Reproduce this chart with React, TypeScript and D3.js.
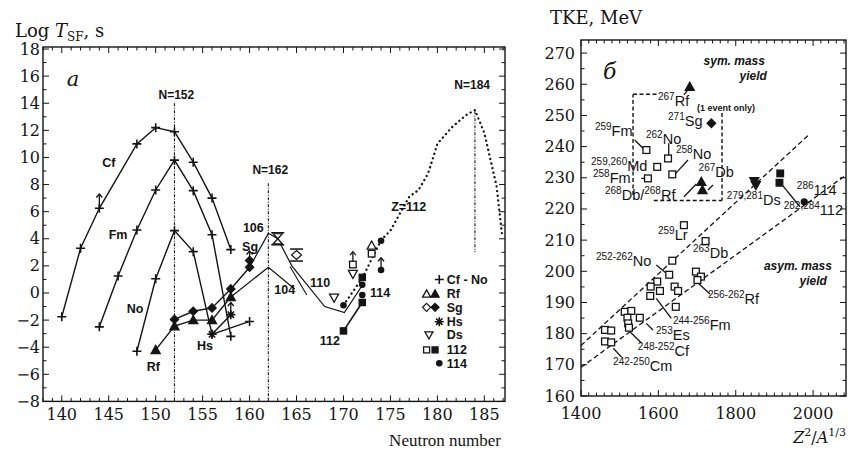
import React from 'react';
import * as d3 from 'd3';

// ---------- Left panel data (log T_SF vs neutron number) ----------
const cfN = [140, 142, 144, 148, 150, 152, 154, 156, 158];
const cfLog = [-1.75, 3.3, 6.25, 11.0, 12.2, 11.9, 9.65, 7.0, 3.2];
const fmN = [144, 146, 148, 150, 152, 154, 156, 158];
const fmLog = [-2.5, 1.25, 4.65, 7.6, 9.8, 7.55, 4.3, -3.2];
const noN = [148, 150, 152, 154, 156, 160];
const noLog = [-4.3, 1.05, 4.6, 3.05, -3.05, -2.1];
const rfN = [150, 152, 154, 156, 158];
const rfLog = [-4.2, -2.45, -2.0, -2.0, -0.3];
const sgN = [152, 154, 156, 158, 160];
const sgLog = [-1.95, -1.35, -1.1, 0.3, 1.9];
const hsN = [156, 158];
const hsLog = [-3.05, -1.6];
// theoretical curves
const th106N = [160, 162, 163, 164.5, 168, 170.1, 171.9];
const th106Log = [1.9, 4.4, 4.0, 2.0, -1.0, -1.45, 0.46];
const th104N = [158, 162, 164.8];
const th104Log = [-0.3, 1.9, 0.3];
const thShortN = [164.3, 166.1];
const thShortLog = [1.95, -0.15];
const z112N = [170, 172, 174, 175, 177, 178, 179, 180, 181.5, 183, 184, 185, 186.3, 186.9];
const z112Log = [-0.9, 1.1, 3.9, 4.6, 7.1, 7.6, 8.8, 11.0, 12.2, 13.1, 13.5, 11.8, 7.9, 4.2];
const line112N = [170, 172];
const line112Log = [-2.8, -0.7];
// superheavy markers
const dsOpenN = [169, 171];
const dsOpenLog = [-0.35, 1.4];
const sq112OpenN = [171, 173];
const sq112OpenLog = [2.1, 2.9];
const rfOpenN = [173];
const rfOpenLog = [3.5];
const sq112FillN = [170, 172, 172];
const sq112FillLog = [-2.8, -0.7, 1.15];
const c114N = [172, 172, 174, 174, 170];
const c114Log = [0.6, -0.15, 3.85, 1.7, -0.9];
const arrowN = [144, 171, 174, 158, 160];
const arrowFrom = [6.25, 2.1, 1.7, -1.6, 2.4];
const arrowTo = [7.3, 3.05, 2.6, -0.7, 3.1];
const barN = [163, 165];
const barLog = [4.0, 2.8];
const sgExtraN = [160];
const sgExtraLog = [2.4];
const magicN = [152, 162, 184];
const magicTop = [14.0, 8.1, 13.4];
const magicBottom = [-8, -8, 3.0];
const magicLabel = ['N=152', 'N=162', 'N=184'];
const magicLabelN = [152.2, 162.2, 183.7];
const magicLabelLog = [14.6, 9.1, 15.35];
const leftLabels = ['Cf', 'Fm', 'No', 'Rf', 'Hs', 'Sg', '106', '104', '110', '112', '114', 'Z=112'];
const leftLabelN = [145.0, 146.0, 147.8, 149.75, 155.25, 160.05, 160.4, 163.75, 167.5, 168.55, 173.9, 176.95];
const leftLabelLog = [9.6, 4.35, -1.13, -5.44, -3.84, 3.42, 4.85, 0.22, 0.76, -3.47, 0.02, 6.35];
const legendText = ['Cf - No', 'Rf', 'Sg', 'Hs', 'Ds', '112', '114'];
const legendLog = [1.0, -0.07, -1.06, -2.12, -3.1, -4.2, -5.19];
const xTicksL = [140, 145, 150, 155, 160, 165, 170, 175, 180, 185];
const yTicksL = [-8, -6, -4, -2, 0, 2, 4, 6, 8, 10, 12, 14, 16, 18];

// ---------- Right panel data (TKE vs Z^2/A^1/3) ----------
const sqX = [1569, 1625, 1597, 1636, 1573, 1666, 1722, 1636, 1628, 1597, 1580, 1604, 1579, 1642, 1651, 1645,
  1697, 1710, 1701, 1513, 1530, 1520, 1552, 1522, 1524, 1462, 1478, 1462, 1478];
const sqT = [238.9, 236.2, 233.5, 231.1, 229.8, 214.8, 209.7, 203.4, 198.9, 196.7, 195.1, 193.7, 192.1, 195.1, 193.7, 188.6,
  199.9, 198.3, 197.2, 187.0, 187.3, 185.1, 185.1, 183.3, 181.9, 181.2, 181.0, 177.5, 177.2];
const triX = [1711, 1714, 1681];
const triT = [228.7, 226.1, 259.2];
const diaX = [1737];
const diaT = [247.5];
const invTriX = [1848, 1852];
const invTriT = [228.9, 227.6];
const fsqX = [1915, 1913];
const fsqT = [231.4, 228.4];
const circX = [1977];
const circT = [222.3];
const symLineX = [1400, 1988];
const symLineT = [176.2, 243.7];
const asymLineX = [1400, 2085];
const asymLineT = [169.2, 230.9];
const boxX = [1534.5, 1534.5];
const boxT = [224.5, 256.8];
const boxTopX = [1534.5, 1599];
const boxBottomX = [1588, 1764.6];
const boxBottomT = 222.7;
const boxRightT = [250.8, 222.7];
const leaderX1 = [1538.8, 1626.7, 1676.6, 1555.9, 1666.2, 1728.2, 1666.2, 1594.6, 1594.6, 1568.8, 1526.6, 1483.5, 1703.2, 1922];
const leaderT1 = [242.1, 241.1, 235.7, 229.8, 223.9, 226.1, 256.6, 202.0, 191.3, 183.3, 180.6, 175.3, 196.2, 227.4];
const leaderX2 = [1560.2, 1626.7, 1644.8, 1566.7, 1698, 1741.2, 1679, 1618, 1633.4, 1586, 1556.9, 1505.2, 1733.4, 1966];
const leaderT2 = [239.5, 237.3, 231.4, 229.8, 228.0, 227.7, 258.7, 199.6, 184.9, 181.2, 176.9, 172.4, 192.7, 220.7];
const isoLabels: { parts: [string, string][]; X: number; T: number }[] = [
  { parts: [['259', 'Fm']], X: 1436, T: 243.4 },
  { parts: [['262', 'No']], X: 1568, T: 240.8 },
  { parts: [['259,260', 'Md']], X: 1426, T: 232.2 },
  { parts: [['258', 'No']], X: 1645.5, T: 235.9 },
  { parts: [['258', 'Fm']], X: 1431, T: 228.3 },
  { parts: [['267', 'Db']], X: 1704, T: 230.2 },
  { parts: [['268', 'Db/'], ['268', 'Rf']], X: 1462, T: 223.0 },
  { parts: [['267', 'Rf']], X: 1599, T: 253.0 },
  { parts: [['271', 'Sg']], X: 1625, T: 246.6 },
  { parts: [['279,281', 'Ds']], X: 1777, T: 221.4 },
  { parts: [['286', '114']], X: 1958, T: 224.6 },
  { parts: [['282,284', '112']], X: 1924, T: 218.2 },
  { parts: [['259', 'Lr']], X: 1599, T: 210.2 },
  { parts: [['263', 'Db']], X: 1689.5, T: 204.4 },
  { parts: [['252-262', 'No']], X: 1438.8, T: 201.7 },
  { parts: [['256-262', 'Rf']], X: 1728, T: 189.4 },
  { parts: [['244-256', 'Fm']], X: 1637.8, T: 181.3 },
  { parts: [['253', 'Es']], X: 1594, T: 178.1 },
  { parts: [['248-252', 'Cf']], X: 1547, T: 172.8 },
  { parts: [['242-250', 'Cm']], X: 1483, T: 168.0 },
];
const xTicksR = [1400, 1600, 1800, 2000];
const yTicksR = [160, 170, 180, 190, 200, 210, 220, 230, 240, 250, 260, 270];

// ---------- scales ----------
const xL = d3.scaleLinear().domain([138, 187.2]).range([43, 505]);
const yL = d3.scaleLinear().domain([-8, 18.15]).range([401.4, 47]);
const xR = d3.scaleLinear().domain([1400, 2085]).range([581, 846]);
const yR = d3.scaleLinear().domain([160, 274.2]).range([396, 40]);

const INK = '#141414';
const SERIF = '"DejaVu Serif", serif';
const TSERIF = '"Liberation Serif", serif';
const SANS = '"Liberation Sans", Arial, sans-serif';

const zipPts = (a: number[], b: number[]) => a.map((v, i) => [v, b[i]] as [number, number]);
const lineL = d3.line<[number, number]>().x(d => xL(d[0])).y(d => yL(d[1]));
const lineR = d3.line<[number, number]>().x(d => xR(d[0])).y(d => yR(d[1]));

const Plus = ({ x, y }: any) => (
  <path d={`M${x - 4.5},${y}H${x + 4.5}M${x},${y - 4.5}V${y + 4.5}`} stroke={INK} strokeWidth={1.6} />
);
const Tri = ({ x, y, s = 4.5, fill = true, inv = false }: any) => {
  const k = inv ? -1 : 1;
  return (
    <path d={`M${x},${y - k * s}L${x + s},${y + k * s * 0.8}L${x - s},${y + k * s * 0.8}Z`}
      fill={fill ? INK : 'white'} stroke={INK} strokeWidth={1.3} />
  );
};
const Dia = ({ x, y, s = 4.2, fill = true }: any) => (
  <path d={`M${x},${y - s}L${x + s},${y}L${x},${y + s}L${x - s},${y}Z`} fill={fill ? INK : 'white'} stroke={INK} strokeWidth={1.2} />
);
const Ast = ({ x, y }: any) => {
  const r = 4.5;
  const d = [0, 45, 90, 135].map(a => {
    const c = Math.cos((a * Math.PI) / 180) * r, s = Math.sin((a * Math.PI) / 180) * r;
    return `M${x - c},${y - s}L${x + c},${y + s}`;
  }).join('');
  return <path d={d} stroke={INK} strokeWidth={1.6} />;
};
const Sq = ({ x, y, h = 3.3, fill = false }: any) => (
  <rect x={x - h} y={y - h} width={2 * h} height={2 * h} fill={fill ? INK : 'white'} stroke={INK} strokeWidth={1.3} />
);
const Circ = ({ x, y, r = 3.3 }: any) => <circle cx={x} cy={y} r={r} fill={INK} />;
const Arrow = ({ x, y0, y1 }: any) => (
  <g stroke={INK} strokeWidth={1.3} fill="none">
    <path d={`M${x},${y0}V${y1}`} />
    <path d={`M${x - 3},${y1 + 3.5}L${x},${y1}L${x + 3},${y1 + 3.5}`} />
  </g>
);

function LeftPanel() {
  const [x0, x1] = xL.range();
  const [y0, y1] = yL.range();
  const minorX = d3.range(138, 188, 1);
  const minorY = d3.range(-8, 19, 1);
  return (
    <g>
      <rect x={x0} y={y1} width={x1 - x0} height={y0 - y1} fill="none" stroke={INK} strokeWidth={1.4} />
      {minorX.map(n => {
        const L = n % 5 === 0 ? 6 : 3.5;
        return (
          <g key={'tx' + n} stroke={INK} strokeWidth={1}>
            <line x1={xL(n)} x2={xL(n)} y1={y0} y2={y0 - L} />
            <line x1={xL(n)} x2={xL(n)} y1={y1} y2={y1 + L} />
          </g>
        );
      })}
      {minorY.map(v => {
        const L = v % 2 === 0 ? 6 : 3.5;
        return (
          <g key={'ty' + v} stroke={INK} strokeWidth={1}>
            <line x1={x0} x2={x0 + L} y1={yL(v)} y2={yL(v)} />
            <line x1={x1} x2={x1 - L} y1={yL(v)} y2={yL(v)} />
          </g>
        );
      })}
      {xTicksL.map(n => (
        <text key={'lx' + n} x={xL(n)} y={y0 + 19} fontFamily={SERIF} fontSize={16} textAnchor="middle" fill={INK}>{n}</text>
      ))}
      {yTicksL.map(v => (
        <text key={'ly' + v} x={x0 - 3} y={yL(v) + 5.5} fontFamily={SERIF} fontSize={16} textAnchor="end" fill={INK}>
          {v < 0 ? '\u2212' + Math.abs(v) : v}
        </text>
      ))}
      <text x={15} y={37} fontFamily={SERIF} fontSize={18} fill={INK}>
        Log <tspan fontStyle="italic">T</tspan><tspan fontSize={12} dy={4}>SF</tspan><tspan dy={-4}>, s</tspan>
      </text>
      <text x={x1 - 4} y={446} fontFamily={TSERIF} fontSize={17} textAnchor="end" fill={INK}>Neutron number</text>
      <text x={xL(141.2)} y={yL(15.7) + 6} fontFamily={SERIF} fontStyle="italic" fontSize={21} textAnchor="middle" fill={INK}>a</text>

      {magicN.map((n, i) => (
        <g key={'m' + n}>
          <line x1={xL(n)} x2={xL(n)} y1={yL(magicTop[i])} y2={yL(magicBottom[i])} stroke={INK} strokeWidth={1.1} strokeDasharray="3 1.5 1 1.5" />
          <text x={xL(magicLabelN[i])} y={yL(magicLabelLog[i])} dy="0.36em" fontFamily={SANS} fontWeight="bold" fontSize={12} textAnchor="middle" fill={INK}>{magicLabel[i]}</text>
        </g>
      ))}

      <g fill="none" stroke={INK} strokeWidth={1.4}>
        <path d={lineL(zipPts(cfN, cfLog))!} />
        <path d={lineL(zipPts(fmN, fmLog))!} />
        <path d={lineL(zipPts(noN, noLog))!} />
        <path d={lineL(zipPts(rfN, rfLog))!} />
        <path d={lineL(zipPts(sgN, sgLog))!} />
        <path d={lineL(zipPts(hsN, hsLog))!} />
        <path d={lineL(zipPts(th106N, th106Log))!} strokeWidth={1.2} />
        <path d={lineL(zipPts(th104N, th104Log))!} strokeWidth={1.2} />
        <path d={lineL(zipPts(thShortN, thShortLog))!} strokeWidth={1.1} />
        <path d={lineL(zipPts(line112N, line112Log))!} strokeWidth={1.6} />
        <path d={lineL(zipPts(z112N, z112Log))!} strokeWidth={2.3} strokeDasharray="0.1 4.6" strokeLinecap="round" />
      </g>

      {[...zipPts(cfN, cfLog), ...zipPts(fmN, fmLog), ...zipPts(noN, noLog)].map((p, i) => (
        <Plus key={'p' + i} x={xL(p[0])} y={yL(p[1])} />
      ))}
      {arrowN.map((n, i) => (
        <Arrow key={'a' + i} x={xL(n)} y0={yL(arrowFrom[i])} y1={yL(arrowTo[i])} />
      ))}
      {zipPts(rfN, rfLog).map((p, i) => <Tri key={'rf' + i} x={xL(p[0])} y={yL(p[1])} />)}
      {zipPts(sgN, sgLog).concat(zipPts(sgExtraN, sgExtraLog)).map((p, i) => <Dia key={'sg' + i} x={xL(p[0])} y={yL(p[1])} />)}
      {zipPts(hsN, hsLog).map((p, i) => <Ast key={'hs' + i} x={xL(p[0])} y={yL(p[1])} />)}
      {barN.map((n, i) => {
        const cx = xL(n), cy = yL(barLog[i]);
        return (
          <g key={'b' + i} stroke={INK} strokeWidth={1.5} fill="white">
            <line x1={cx - 6.5} x2={cx + 6.5} y1={cy - 6} y2={cy - 6} />
            <line x1={cx - 6.5} x2={cx + 6.5} y1={cy + 6} y2={cy + 6} />
            {i === 0 ? (
              <path d={`M${cx - 4.5},${cy - 5}L${cx + 4.5},${cy - 5}L${cx},${cy}Z M${cx - 4.5},${cy + 5}L${cx + 4.5},${cy + 5}L${cx},${cy}Z`} strokeWidth={1.2} />
            ) : (
              <path d={`M${cx},${cy - 4.5}L${cx + 5},${cy}L${cx},${cy + 4.5}L${cx - 5},${cy}Z`} strokeWidth={1.2} />
            )}
          </g>
        );
      })}
      {zipPts(dsOpenN, dsOpenLog).map((p, i) => <Tri key={'ds' + i} x={xL(p[0])} y={yL(p[1])} fill={false} inv />)}
      {zipPts(sq112OpenN, sq112OpenLog).map((p, i) => <Sq key={'so' + i} x={xL(p[0])} y={yL(p[1])} />)}
      {zipPts(rfOpenN, rfOpenLog).map((p, i) => <Tri key={'ro' + i} x={xL(p[0])} y={yL(p[1])} fill={false} />)}
      {zipPts(sq112FillN, sq112FillLog).map((p, i) => <Sq key={'sf' + i} x={xL(p[0])} y={yL(p[1])} fill h={3.1} />)}
      {zipPts(c114N, c114Log).map((p, i) => <Circ key={'c' + i} x={xL(p[0])} y={yL(p[1])} />)}

      {leftLabels.map((t, i) => (
        <text key={'ll' + i} x={xL(leftLabelN[i])} y={yL(leftLabelLog[i])} dy="0.36em" fontFamily={SANS} fontWeight="bold" fontSize={12.5} textAnchor="middle" fill={INK}>{t}</text>
      ))}

      {legendText.map((t, i) => {
        const y = yL(legendLog[i]);
        const xa = xL(178.85), xb = xL(179.75), xc = xL(180.2);
        let sym: any = null;
        if (i === 0) sym = <Plus x={xc} y={y} />;
        if (i === 1) sym = <g><Tri x={xa} y={y} s={4} fill={false} /><Tri x={xb} y={y} s={4} /></g>;
        if (i === 2) sym = <g><Dia x={xa} y={y} s={4} fill={false} /><Dia x={xb} y={y} s={4} /></g>;
        if (i === 3) sym = <Ast x={xc} y={y} />;
        if (i === 4) sym = <Tri x={xL(179.1)} y={y} s={4} fill={false} inv />;
        if (i === 5) sym = <g><Sq x={xa} y={y} h={3} /><Sq x={xb} y={y} h={3} fill /></g>;
        if (i === 6) sym = <Circ x={xc} y={y} />;
        return (
          <g key={'lg' + i}>
            {sym}
            <text x={xL(181.0)} y={y} dy="0.36em" fontFamily={SANS} fontWeight="bold" fontSize={12.5} fill={INK}>{t}</text>
          </g>
        );
      })}
    </g>
  );
}

function RightPanel() {
  const [x0, x1] = xR.range();
  const [y0, y1] = yR.range();
  const minorX = d3.range(1400, 2086, 20);
  const minorY = d3.range(160, 275, 5);
  return (
    <g>
      <rect x={x0} y={y1} width={x1 - x0} height={y0 - y1} fill="none" stroke={INK} strokeWidth={1.4} />
      {minorX.map(v => {
        const L = v % 200 === 0 ? 6 : 3.5;
        return (
          <g key={'rx' + v} stroke={INK} strokeWidth={1}>
            <line x1={xR(v)} x2={xR(v)} y1={y0} y2={y0 - L} />
            <line x1={xR(v)} x2={xR(v)} y1={y1} y2={y1 + L} />
          </g>
        );
      })}
      {minorY.map(v => {
        const L = v % 10 === 0 ? 6 : 3.5;
        return (
          <g key={'ry' + v} stroke={INK} strokeWidth={1}>
            <line x1={x0} x2={x0 + L} y1={yR(v)} y2={yR(v)} />
            <line x1={x1} x2={x1 - L} y1={yR(v)} y2={yR(v)} />
          </g>
        );
      })}
      {xTicksR.map(v => (
        <text key={'tx' + v} x={xR(v)} y={y0 + 23} fontFamily={SERIF} fontSize={16} textAnchor="middle" fill={INK}>{v}</text>
      ))}
      {yTicksR.map(v => (
        <text key={'ty' + v} x={x0 - 6} y={yR(v) + 5.5} fontFamily={SERIF} fontSize={16} textAnchor="end" fill={INK}>{v}</text>
      ))}
      <text x={550} y={24} fontFamily={SERIF} fontSize={18} fill={INK}>TKE, MeV</text>
      <text x={846} y={443} fontFamily={SERIF} fontSize={16} textAnchor="end" fill={INK}>
        <tspan fontStyle="italic">Z</tspan><tspan fontSize={11} dy={-7}>2</tspan><tspan dy={7}>/</tspan><tspan fontStyle="italic">A</tspan><tspan fontSize={11} dy={-7}>1/3</tspan>
      </text>
      <text x={xR(1457)} y={yR(261.7)} fontFamily={SERIF} fontStyle="italic" fontSize={22} fill={INK}>б</text>

      <g fill="none" stroke={INK} strokeWidth={1.3} strokeDasharray="5 3">
        <path d={lineR(zipPts(symLineX, symLineT))!} />
        <path d={lineR(zipPts(asymLineX, asymLineT))!} />
      </g>
      <g fill="none" stroke={INK} strokeWidth={1.4} strokeDasharray="4 2.5">
        <path d={lineR(zipPts(boxX, boxT))!} />
        <path d={lineR(zipPts(boxTopX, [boxT[1], boxT[1]]))!} />
        <path d={lineR(zipPts(boxBottomX, [boxBottomT, boxBottomT]))!} />
        <path d={lineR(zipPts([boxBottomX[1], boxBottomX[1]], boxRightT))!} />
      </g>
      {leaderX1.map((v, i) => (
        <line key={'ld' + i} x1={xR(v)} y1={yR(leaderT1[i])} x2={xR(leaderX2[i])} y2={yR(leaderT2[i])} stroke={INK} strokeWidth={1.3} />
      ))}
      {sqX.map((v, i) => <Sq key={'rs' + i} x={xR(v)} y={yR(sqT[i])} h={3.4} />)}
      {triX.map((v, i) => <Tri key={'rt' + i} x={xR(v)} y={yR(triT[i])} s={4.5} />)}
      {diaX.map((v, i) => <Dia key={'rd' + i} x={xR(v)} y={yR(diaT[i])} s={4.3} />)}
      {invTriX.map((v, i) => <Tri key={'ri' + i} x={xR(v)} y={yR(invTriT[i])} s={4.5} inv />)}
      {fsqX.map((v, i) => <Sq key={'rf' + i} x={xR(v)} y={yR(fsqT[i])} h={3.3} fill />)}
      {circX.map((v, i) => <Circ key={'rc' + i} x={xR(v)} y={yR(circT[i])} r={3.6} />)}

      {isoLabels.map((l, i) => (
        <text key={'il' + i} x={xR(l.X)} y={yR(l.T)} fontFamily={SANS} fontSize={14.5} fill={INK}>
          {l.parts.map((p, j) => (
            <React.Fragment key={j}>
              <tspan fontSize={10} dy={-6}>{p[0]}</tspan>
              <tspan dy={6}>{p[1]}</tspan>
            </React.Fragment>
          ))}
        </text>
      ))}
      <text x={xR(1700)} y={yR(251.4)} fontFamily={SANS} fontWeight="bold" fontSize={9} fill={INK}>(1 event only)</text>
      <g fontFamily={SANS} fontWeight="bold" fontStyle="italic" fontSize={12} fill={INK} textAnchor="end">
        <text x={xR(1875.6)} y={yR(266.2)}>sym. mass</text>
        <text x={xR(1880.7)} y={yR(261.5)}>yield</text>
        <text x={xR(2048.7)} y={yR(200.3)}>asym. mass</text>
        <text x={xR(2035.8)} y={yR(195.6)}>yield</text>
      </g>
    </g>
  );
}

export default function App() {
  return (
    <svg width={848} height={453} viewBox="0 0 848 453" style={{ position: 'absolute', left: 0, top: 0, display: 'block', background: 'white' }}>
      <rect width={848} height={453} fill="white" />
      <LeftPanel />
      <RightPanel />
    </svg>
  );
}
